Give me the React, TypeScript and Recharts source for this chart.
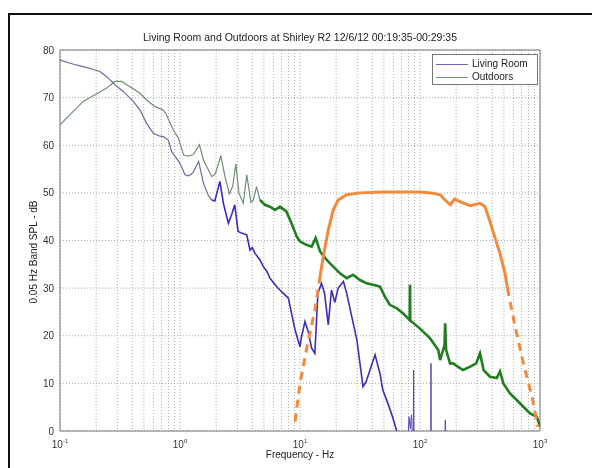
import {
  LineChart,
  Line,
  XAxis,
  YAxis,
  CartesianGrid,
  ReferenceArea,
} from "recharts";

/* ------------------------------------------------------------------ */
/*  Data                                      */
/* ------------------------------------------------------------------ */

const livingFreq = [
  0.1, 0.13, 0.156, 0.19, 0.215, 0.245, 0.287, 0.337, 0.408, 0.464, 0.527,
  0.599, 0.68, 0.726, 0.8, 0.85, 0.92, 1.0, 1.1, 1.18, 1.28, 1.43, 1.57, 1.72,
  1.84, 1.95, 2.08, 2.15, 2.3, 2.53, 2.7, 2.86, 3.05, 3.3, 3.6, 3.83, 4.0,
  4.22, 4.64, 4.95, 5.3, 5.62, 6.0, 6.4, 6.8, 7.27, 8.0, 8.5, 9.1, 10, 10.3,
  11, 11.7, 12.5, 13.3, 14.1, 15.1, 16, 17.2, 18.3, 19.5, 20.8, 23, 24.5, 27,
  29.8, 31.6, 33.5, 35.5, 38.3, 42.2, 46.4, 49, 54, 59, 64,
];
const livingDb = [
  77.9, 77.0, 76.5, 75.9, 75.5, 74.4, 72.7, 71.3, 69.2, 67.4, 64.6, 62.5,
  61.9, 61.8, 61.1, 58.7, 57.5, 56.2, 53.8, 53.6, 54.2, 56.6, 52, 49.5, 48.5,
  48.3, 51, 52.4, 47.8, 43.6, 45.5, 47.5, 41.9, 41.5, 41.2, 38, 38.5, 37.3,
  35.9, 34.5, 33.5, 32.1, 31.2, 30.3, 29.6, 28.9, 27.9, 24.7, 21.2, 17.7,
  19.8, 23, 20.9, 17.4, 16.3, 28.9, 31, 29, 22.3, 29.6, 27, 30, 31.4, 28.9,
  24, 19.1, 14.2, 9.3, 10.3, 12.8, 16, 12.1, 8.6, 5.8, 3, 0,
];

// isolated living-room spikes above the floor (null = gap)
const spikeFreq = [80, 81, 83, 85, 86, 87, 88, 88.5, 89, 100, 123, 123.5, 124, 140, 162, 162.5, 163];
const spikeDb = [0, 3, 0.5, 3.4, 0, null, 0, 12.8, 0, null, 0, 14.2, 0, null, 0, 2.3, 0];

const outdoorFreq = [
  0.1, 0.129, 0.156, 0.196, 0.245, 0.287, 0.326, 0.383, 0.464, 0.527, 0.62,
  0.726, 0.77, 0.88, 0.97, 1.07, 1.15, 1.29, 1.45, 1.57, 1.84, 1.97, 2.19,
  2.37, 2.58, 2.75, 2.92, 3.1, 3.37, 3.6, 3.9, 4.07, 4.34, 4.64, 5.1, 5.6,
  6.2, 6.8, 7.7, 8.5, 9.4, 10, 11.3, 12.5, 13.5, 14.7, 16.2, 17.8, 19.5, 21.5,
  24.5, 27.7, 31.6, 35.9, 40.7, 46.4, 51, 56, 63.8, 72.4, 82, 82.5, 83, 100,
  121, 142, 147, 160, 162, 165, 178, 188, 228, 262, 294, 316, 339, 383, 436,
  464, 495, 562, 640, 727, 826, 940, 1000,
];
const outdoorDb = [
  64.3, 67.1, 69.2, 70.6, 72, 73.4, 73.4, 72.3, 70.9, 69.5, 68.1, 67.4, 66.4,
  63.2, 61.5, 58, 57.7, 58, 60.1, 56.9, 53.4, 54, 57.8, 53.4, 49.8, 51.4,
  56.1, 49.9, 47.8, 53.8, 48, 48.4, 51.3, 48.5, 47.5, 47.1, 46.4, 47.1, 46.1,
  43.6, 40.8, 39.8, 39.1, 38.7, 40.5, 37.7, 36.3, 35.2, 34.2, 33.1, 32.1,
  32.8, 31.7, 31, 30.7, 30.3, 28.2, 26.5, 25.8, 24.7, 23.3, 30.7, 23.2, 21.5,
  19.5, 17, 14.9, 18, 22.6, 17, 14.2, 14.2, 12.8, 13.5, 14.2, 16.3, 12.8,
  11.4, 11.1, 12.5, 10, 7.9, 6.5, 5.1, 3.7, 3, 0.9,
];

const curveLowFreq = [9.1, 10, 11.3, 13.3, 14.4];
const curveLowDb = [2, 10, 17, 25.4, 31];
const curveFreq = [
  14.4, 15.6, 17.2, 18.9, 20.8, 24.5, 31.6, 49, 100, 129, 147, 162, 179, 194,
  222, 262, 316, 348, 383, 422, 464, 511, 535,
];
const curveDb = [
  31, 36.6, 42.2, 46.4, 48.5, 49.6, 50, 50.2, 50.2, 49.9, 49.6, 48.5, 47.5,
  48.7, 48, 47.3, 47.8, 47.1, 44, 40.5, 37.3, 33.1, 30,
];
const curveHighFreq = [535, 612, 727, 858, 960];
const curveHighDb = [30, 22.6, 14.2, 7.2, 0.9];

const decades = [0.1, 1, 10, 100, 1000];
const exponents = ["-1", "0", "1", "2", "3"];
const yTicks = [0, 10, 20, 30, 40, 50, 60, 70, 80];

/* ------------------------------------------------------------------ */
/*  Helpers                                                            */
/* ------------------------------------------------------------------ */

const zip = (fs: number[], vs: (number | null)[]) =>
  fs.map((f, i) => ({ f, v: vs[i] }));

// all 1..9 x decade positions for the grid
const xTicks: number[] = [];
decades.slice(0, 4).forEach((d) => {
  for (let k = 1; k < 10; k++) xTicks.push(+(d * k).toPrecision(3));
});
xTicks.push(1000);

const FONT = "'Liberation Sans', Arial, sans-serif";
const SPLIT = 4.64; // where the traces turn from thin/grey to thick/noisy

function DecadeTick(props: any) {
  const { x, y, payload } = props;
  const idx = decades.indexOf(payload.value);
  if (idx < 0) return null;
  return (
    <text x={x} y={y + 9} textAnchor="middle" fontSize={10} fill="#333" fontFamily={FONT}>
      <tspan>10</tspan>
      <tspan dy={-5} fontSize={6}>
        {exponents[idx]}
      </tspan>
    </text>
  );
}

const lineProps = {
  dataKey: "v",
  dot: false,
  activeDot: false,
  isAnimationActive: false,
} as const;

/* ------------------------------------------------------------------ */
/*  Component                                                          */
/* ------------------------------------------------------------------ */

export default function App() {
  const living = zip(livingFreq, livingDb);
  const spikes = zip(spikeFreq, spikeDb);
  const outdoor = zip(outdoorFreq, outdoorDb);
  const outdoorEarly = outdoor.filter((p) => p.f <= SPLIT);
  const outdoorLate = outdoor.filter((p) => p.f >= SPLIT);
  const livingEarly = living.filter((p) => p.f <= 1.84);
  const livingLate = living.filter((p) => p.f >= 1.84);

  return (
    <div style={{ position: "relative", width: 576, height: 452, fontFamily: FONT }}>
      <div
        style={{
          position: "fixed",
          left: 8,
          top: 13,
          right: -10,
          bottom: -10,
          borderLeft: "2px solid #111",
          borderTop: "2px solid #111",
        }}
      />

      <div style={{ position: "absolute", left: 0, top: 0 }}>
        <LineChart width={576} height={452} margin={{ top: 42, right: 44, bottom: 0, left: 0 }}>
          <CartesianGrid stroke="#aaa" strokeDasharray="1 2" />
          <XAxis
            dataKey="f"
            type="number"
            scale="log"
            domain={[0.1, 1000]}
            ticks={xTicks}
            interval={0}
            allowDataOverflow
            axisLine={false}
            tickLine={false}
            height={29}
            tick={<DecadeTick />}
          />
          <YAxis
            type="number"
            domain={[0, 80]}
            ticks={yTicks}
            allowDataOverflow
            axisLine={false}
            tickLine={false}
            width={52}
            tickSize={4}
            tick={{ fontSize: 10, fill: "#333", fontFamily: FONT }}
          />
          <ReferenceArea x1={0.1} x2={1000} y1={0} y2={80} fill="none" stroke="#777" />
          <Line {...lineProps} data={outdoorEarly} stroke="#6f8f6f" strokeWidth={1.2} />
          <Line {...lineProps} data={outdoorLate} stroke="#1f7f1f" strokeWidth={2.6} />
          <Line {...lineProps} data={livingEarly} stroke="#6c6a98" strokeWidth={1.2} />
          <Line {...lineProps} data={livingLate} stroke="#3a2cc0" strokeWidth={1.6} />
          <Line {...lineProps} data={spikes} stroke="#5548b8" strokeWidth={1} />
          <Line
            {...lineProps}
            data={zip(curveLowFreq, curveLowDb)}
            stroke="#f08a3c"
            strokeWidth={3}
            strokeDasharray="8 6"
          />
          <Line {...lineProps} data={zip(curveFreq, curveDb)} stroke="#f08a3c" strokeWidth={3} />
          <Line
            {...lineProps}
            data={zip(curveHighFreq, curveHighDb)}
            stroke="#f08a3c"
            strokeWidth={3}
            strokeDasharray="8 6"
          />
        </LineChart>
      </div>

      <svg
        width={576}
        height={452}
        style={{ position: "absolute", left: 0, top: 0, pointerEvents: "none" }}
        fontFamily={FONT}
        fill="#222"
      >
        <text x={292} y={33} textAnchor="middle" fontSize={10.5}>
          Living Room and Outdoors at Shirley R2 12/6/12 00:19:35-00:29:35
        </text>
        <text x={29} y={244} textAnchor="middle" fontSize={10} transform="rotate(-90 29 244)">
          0.05 Hz Band SPL - dB
        </text>
        <text x={292} y={450} textAnchor="middle" fontSize={10}>
          Frequency - Hz
        </text>
      </svg>

      <div
        style={{
          position: "absolute",
          left: 424,
          top: 46,
          width: 106,
          height: 31,
          border: "1px solid #777",
          background: "#fff",
          boxSizing: "border-box",
          fontSize: 10,
          color: "#222",
        }}
      >
        {[
          { name: "Living Room", color: "#6a68b0" },
          { name: "Outdoors", color: "#6fa06f" },
        ].map((item, i) => (
          <div
            key={item.name}
            style={{ position: "absolute", left: 3, top: 3 + i * 13, display: "flex", alignItems: "center" }}
          >
            <div style={{ width: 32, height: 0, borderTop: `1px solid ${item.color}`, marginRight: 4 }} />
            <span style={{ lineHeight: "12px" }}>{item.name}</span>
          </div>
        ))}
      </div>
    </div>
  );
}
